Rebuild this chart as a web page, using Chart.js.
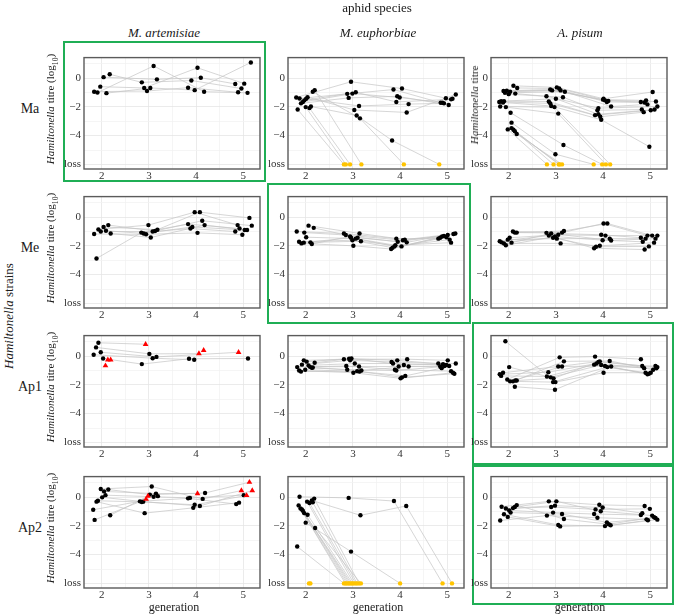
<!DOCTYPE html>
<html>
<head>
<meta charset="utf-8">
<script src="https://cdn.jsdelivr.net/npm/chart.js@4.4.0/dist/chart.umd.min.js"></script>
<style>
body { margin: 0; background: #fff; width: 674px; height: 614px; position: relative; overflow: hidden;
  font-family: 'Liberation Serif', 'DejaVu Serif', serif; color: #1a1a1a; }
.t { position: absolute; white-space: nowrap; transform: translate(-50%, -50%); }
.v { position: absolute; white-space: nowrap; transform: translate(-50%, -50%) rotate(-90deg); }
.box { position: absolute; border: 2px solid #1fae55; box-sizing: border-box; }
canvas { position: absolute; }
sub { font-size: 70%; }
</style>
</head>
<body>
<script>
const L = -6; // "loss" is drawn on the -6 line

const strains = ['Ma', 'Me', 'Ap1', 'Ap2'];
const species = ['M. artemisiae', 'M. euphorbiae', 'A. pisum'];
const xTicks = [2, 3, 4, 5];
const yTicks = [0, -2, -4, -6];
const yTickLabels = ['0', '−2', '−4', 'loss'];

// each lineage: [generation (jittered), titre]; 'r' = red triangle
const maArt = [
	[[1.84,-0.95],[2.96,-0.90],[3.83,-0.67],[4.89,-0.99]],
	[[1.91,-1.01],[3.10,0.84],[4.17,-0.95],[5.09,-1.03]],
	[[1.97,-0.60],[2.90,-0.69],[4.03,0.71],[5.02,-0.39]],
	[[2.04,0.06],[3.17,-0.09],[4.10,0.02],[4.83,-0.41]],
	[[2.10,-1.05],[3.03,-0.69],[3.97,-0.84],[5.16,1.08]],
	[[2.17,0.26],[2.85,-0.30],[3.90,-0.17],[4.96,-0.73]]
];
const maEup = [
	[[1.83,-2.19],[2.81,L]],
	[[2.00,-2.02],[2.85,L]],
	[[2.08,-2.09],[2.94,L]],
	[[2.19,-0.84],[3.18,L]],
	[[1.80,-1.35],[2.96,-0.26],[4.04,-0.73],[4.97,-1.40]],
	[[1.87,-1.42],[2.88,-1.10],[3.86,-0.80],[4.86,-1.72]],
	[[1.90,-1.76],[2.91,-1.38],[3.94,-1.27],[5.03,-1.87]],
	[[1.94,-1.66],[2.99,-1.08],[3.99,-1.35],[4.90,-1.72]],
	[[1.97,-1.55],[3.06,-0.99],[3.92,-1.66],[5.08,-1.48]],
	[[2.01,-1.44],[3.13,-1.94],[4.18,-1.81],[4.93,-1.76]],
	[[2.04,-1.33],[3.03,-2.22],[4.14,-2.39],[5.18,-1.14]],
	[[2.11,-1.98],[3.08,-2.60],[3.83,-4.34],[4.83,L]],
	[[2.15,-0.95],[3.15,-2.80],[4.08,L]],
	[[5.11,-1.44]]
];
const maPis = [
	[[2.10,-0.54],[3.02,-0.65],[4.01,-1.44],[5.05,-0.97]],
	[[2.18,-0.69],[3.07,-0.73],[4.00,-1.50],[4.91,-1.55]],
	[[1.96,-0.88],[2.88,-0.80],[4.04,-1.55],[5.12,-1.63]],
	[[1.89,-0.90],[2.92,-0.86],[4.11,-1.59],[4.80,-1.66]],
	[[2.03,-0.95],[3.10,-0.86],[4.08,-1.66],[4.88,-1.70]],
	[[1.92,-1.03],[3.19,-0.95],[4.17,-1.98],[4.94,-1.83]],
	[[2.14,-1.08],[2.80,-1.27],[3.90,-2.09],[5.15,-1.98]],
	[[2.00,-1.12],[3.15,-1.33],[3.88,-2.24],[4.82,-2.19]],
	[[1.84,-1.61],[3.00,-1.44],[3.90,-2.52],[5.09,-2.19]],
	[[1.90,-1.61],[2.85,-1.63],[3.83,-2.58],[5.01,-2.24]],
	[[1.80,-1.66],[2.88,-1.76],[3.94,-2.69],[4.86,-2.37]],
	[[1.88,-1.70],[2.90,-1.94],[3.96,-2.90],[4.98,-4.77]],
	[[1.82,-1.98],[2.97,-2.02],[4.15,L]],
	[[1.94,-2.02],[3.05,-2.47],[4.06,L]],
	[[1.98,-3.57],[2.81,L]],
	[[2.06,-3.48],[2.95,L]],
	[[2.10,-3.59],[3.06,L]],
	[[2.13,-3.70],[3.08,L]],
	[[2.17,-3.89],[3.13,L]],
	[[2.06,-3.10],[2.99,-5.29],[3.80,L]],
	[[2.04,-2.41],[3.16,-4.65],[3.98,L]]
];
const meArt = [
	[[1.84,-1.18],[2.94,-1.20],[4.03,-1.10],[4.98,-1.23]],
	[[1.93,-0.86],[2.99,-0.56],[3.97,0.34],[4.88,-0.56]],
	[[1.98,-1.01],[3.08,-1.01],[3.88,-0.80],[4.83,-1.01]],
	[[2.04,-0.69],[3.18,-0.88],[4.08,0.34],[5.13,-0.06]],
	[[2.09,-0.95],[2.89,-1.14],[3.92,-0.69],[5.03,-0.90]],
	[[2.14,-0.56],[3.13,-0.97],[4.13,-0.26],[5.18,-0.60]],
	[[2.19,-1.14],[3.04,-1.42],[4.18,-0.56],[5.08,-0.90]],
	[[1.89,-2.88],[2.84,-1.08],[3.83,-0.49],[4.92,-0.80]]
];
const meEup = [
	[[1.81,-1.01],[2.81,-1.14],[3.92,-1.50],[4.81,-1.50]],
	[[1.86,-1.72],[2.99,-1.61],[3.84,-2.13],[4.85,-1.44]],
	[[1.91,-1.83],[3.01,-2.00],[3.81,-2.22],[4.89,-1.35]],
	[[1.96,-1.78],[2.96,-1.44],[3.88,-2.04],[5.05,-1.57]],
	[[1.97,-1.08],[2.85,-1.25],[4.06,-1.61],[4.93,-1.31]],
	[[2.01,-1.40],[3.06,-1.50],[3.90,-1.96],[5.08,-1.78]],
	[[2.06,-0.60],[3.14,-1.14],[4.10,-1.57],[5.13,-1.18]],
	[[2.10,-1.76],[3.17,-1.68],[4.03,-2.04],[4.98,-1.40]],
	[[2.13,-1.87],[2.94,-1.35],[3.95,-1.72],[5.01,-1.25]],
	[[2.17,-0.75],[3.10,-1.44],[4.14,-1.76],[5.17,-1.14]]
];
const mePis = [
	[[1.81,-1.68],[2.85,-1.29],[3.81,-2.17],[4.88,-2.26]],
	[[1.85,-1.76],[2.94,-1.44],[3.85,-2.06],[4.97,-2.04]],
	[[1.90,-1.83],[3.10,-1.83],[3.93,-2.00],[5.08,-1.78]],
	[[1.94,-1.96],[2.98,-1.35],[3.99,-1.61],[4.84,-1.72]],
	[[1.98,-1.57],[3.02,-1.50],[4.14,-1.50],[4.90,-1.50]],
	[[2.02,-1.44],[3.05,-1.23],[4.05,-1.29],[5.15,-1.29]],
	[[2.06,-1.78],[2.90,-1.14],[3.96,-1.23],[4.80,-1.44]],
	[[2.09,-1.01],[3.13,-1.08],[4.01,-0.45],[4.94,-1.29]],
	[[2.13,-1.08],[3.17,-0.97],[4.09,-0.45],[5.04,-1.29]],
	[[2.17,-1.08],[2.80,-1.10],[4.17,-1.63],[5.11,-1.50]]
];
const ap1Art = [
	[[1.93,0.92],[2.93,0.82,'r']],
	[[1.88,0.60],[3.01,0.15],[4.06,0.17,'r']],
	[[1.98,0.26],[3.16,-0.06],[4.90,0.26,'r']],
	[[2.03,-0.17],[2.85,-0.56],[3.85,-0.19],[5.10,-0.17]],
	[[1.83,0.09],[3.08,-0.15],[3.96,-0.26]],
	[[4.16,0.39,'r']],
	[[2.08,-0.67,'r']],
	[[2.13,-0.26,'r']],
	[[2.19,-0.26,'r']]
];
const ap1Eup = [
	[[1.82,-0.77],[2.86,-0.69],[3.89,-0.95],[5.08,-1.05]],
	[[1.86,-1.01],[3.01,-1.16],[4.01,-1.55],[5.12,-1.16]],
	[[1.90,-1.08],[3.09,-1.05],[4.04,-1.48],[5.15,-1.23]],
	[[1.92,-0.60],[2.94,-0.30],[3.82,-0.41],[4.81,-0.52]],
	[[1.96,-0.30],[2.81,-0.22],[4.15,-0.22],[5.01,-0.30]],
	[[1.99,-0.95],[3.14,-1.08],[4.11,-1.38],[4.88,-0.84]],
	[[2.02,-0.39],[2.92,-0.19],[3.94,-0.30],[4.91,-0.56]],
	[[2.06,-0.65],[3.04,-0.52],[3.85,-0.52],[4.98,-0.62]],
	[[2.09,-0.75],[3.13,-0.73],[3.97,-0.73],[4.85,-0.73]],
	[[2.13,-0.82],[2.88,-0.95],[3.92,-1.01],[5.04,-0.69]],
	[[2.15,-0.80],[3.18,-1.01],[4.18,-0.73],[4.94,-0.69]],
	[[2.19,-0.47],[2.97,-0.17],[4.08,-0.62],[5.18,-0.52]]
];
const ap1Pis = [
	[[1.81,-1.27],[2.84,-1.12],[3.86,-0.52],[4.87,-0.84]],
	[[1.84,-1.38],[2.81,-1.42],[3.81,-0.60],[4.90,-1.16]],
	[[1.88,-1.16],[3.05,-0.73],[3.93,-0.37],[4.83,-0.69]],
	[[1.93,1.03],[2.99,-1.81],[4.01,-1.16],[5.01,-1.16]],
	[[1.97,-1.63],[3.08,-0.09],[3.83,-0.04],[4.80,-0.22]],
	[[2.01,-0.77],[2.89,-1.48],[3.96,-0.62],[4.94,-1.27]],
	[[2.03,-1.76],[3.13,-0.73],[4.04,-0.69],[5.11,-0.69]],
	[[2.09,-1.76],[2.94,-1.81],[4.09,-0.77],[4.97,-1.23]],
	[[2.14,-1.70],[3.17,-0.37],[4.14,-0.34],[5.06,-0.95]],
	[[2.17,-1.70],[2.95,-1.55],[3.90,-0.41],[5.15,-0.77]],
	[[2.13,-2.13],[2.98,-2.34],[4.17,-0.73],[5.13,-0.85]]
];
const ap2Art = [
	[[1.82,-0.88],[2.81,-0.30],[3.83,-0.09],[4.85,-0.49]],
	[[1.85,-1.59],[2.94,-0.15,'r']],
	[[2.18,-1.27],[2.98,0.06,'r']],
	[[1.89,-0.32],[2.91,-1.12],[3.94,-0.75],[4.91,-0.39]],
	[[1.92,-0.26],[2.85,-0.34],[3.97,-0.54],[5.07,0.11,'r']],
	[[1.98,0.56],[3.06,0.73],[4.14,-0.13],[4.96,0.45,'r']],
	[[2.01,-0.02],[2.88,-0.32],[4.08,-0.62],[5.19,0.45,'r']],
	[[2.05,0.39],[3.15,0.24],[4.03,0.24,'r']],
	[[2.08,0.13],[3.10,0.02],[3.87,-0.06],[5.01,0.13]],
	[[2.14,0.52],[3.02,0.17],[4.19,0.28],[5.13,1.03,'r']],
	[[3.19,0.06]]
];
const ap2Eup = [
	[[1.87,0.02],[2.91,-0.06],[3.87,-0.28],[4.90,L]],
	[[2.13,-0.24],[3.16,-1.27],[4.13,-0.62],[5.10,L]],
	[[2.00,-1.78],[2.96,-3.79],[4.00,L]],
	[[1.82,-3.44],[2.81,L]],
	[[1.85,-0.58],[2.84,L]],
	[[1.89,-0.80],[2.87,L]],
	[[1.92,-0.86],[2.90,L]],
	[[1.94,-0.95],[2.93,L]],
	[[1.97,-1.12],[2.96,L]],
	[[2.04,-1.23],[2.99,L]],
	[[2.03,-0.32],[3.02,L]],
	[[2.08,-0.41],[3.06,L]],
	[[2.15,-0.37],[3.09,L]],
	[[2.18,-0.11],[3.13,L]],
	[[2.20,-2.15],[3.17,L]],
	[[2.07,L]],
	[[2.10,L]]
];
const ap2Pis = [
	[[1.82,-1.63],[2.81,-1.29],[3.88,-1.44],[4.92,-1.55]],
	[[1.85,-0.67],[2.85,-0.30],[3.92,-0.54],[4.88,-0.62]],
	[[1.90,-1.20],[3.05,-1.94],[4.04,-2.02],[4.95,-1.61]],
	[[1.94,-0.80],[2.90,-0.69],[3.84,-0.86],[4.99,-0.82]],
	[[1.98,-1.38],[3.09,-2.04],[4.16,-1.96],[5.15,-1.57]],
	[[2.01,-0.93],[2.94,-1.08],[3.81,-1.18],[4.80,-1.25]],
	[[2.04,-1.08],[3.13,-1.18],[4.08,-1.76],[5.11,-1.46]],
	[[2.09,-0.77],[2.98,-0.60],[3.99,-0.73],[4.83,-1.12]],
	[[2.13,-0.69],[3.01,-0.30],[3.95,-0.99],[5.04,-1.29]],
	[[2.17,-0.56],[3.17,-1.53],[4.12,-1.89],[5.08,-1.40]]
];

const panels = [
	[maArt, maEup, maPis],
	[meArt, meEup, mePis],
	[ap1Art, ap1Eup, ap1Pis],
	[ap2Art, ap2Eup, ap2Pis]
];

// layout of the grid, pixels
const colLeft = [84, 288, 491];
const rowTop = [49, 188, 327, 468];
const PW = 179, PH = 120, AXW = 32, AXH = 18;

const frame = {
	id: 'frame',
	afterDatasetsDraw(chart) {
		const a = chart.chartArea, g = chart.ctx;
		g.save();
		g.strokeStyle = '#5b5b5b';
		g.lineWidth = 1.4;
		g.strokeRect(a.left, a.top, a.right - a.left, a.bottom - a.top);
		g.restore();
	}
};

function makePanel(r, c, lineages) {
	const cv = document.createElement('canvas');
	const w = AXW + PW + 1, h = 1 + PH + AXH;
	cv.width = w; cv.height = h;
	cv.style.left = (colLeft[c] - AXW) + 'px';
	cv.style.top = (rowTop[r] - 1) + 'px';
	document.body.appendChild(cv);

	const datasets = [];
	const pts = [];
	lineages.forEach(lin => {
		datasets.push({
			data: lin.map(p => ({x: p[0], y: p[1]})),
			showLine: true, borderColor: '#c4c4c4', borderWidth: 0.7,
			pointRadius: 0, order: 2
		});
		lin.forEach(p => pts.push({x: p[0], y: p[1], red: p[2] === 'r'}));
	});
	pts.sort((a, b) => a.red - b.red);
	datasets.push({
		data: pts, order: 1, borderWidth: 0,
		pointStyle: ctx => ctx.raw && ctx.raw.red ? 'triangle' : 'circle',
		pointRadius: ctx => ctx.raw && ctx.raw.red ? 3.3 : 2.2,
		backgroundColor: ctx => {
			if (!ctx.raw) return '#000';
			if (ctx.raw.red) return '#ff0000';
			return ctx.raw.y === L ? '#ffc400' : '#000';
		}
	});

	const tickFont = {family: "'Liberation Serif', serif", size: 11};
	new Chart(cv, {
		type: 'scatter',
		data: {datasets},
		options: {
			responsive: false, animation: false, devicePixelRatio: 1,
			layout: {padding: {top: 1, right: 1, left: 0, bottom: 0}},
			plugins: {legend: {display: false}, tooltip: {enabled: false}},
			scales: {
				x: {
					type: 'linear', min: 1.625, max: 5.354,
					afterBuildTicks: s => { s.ticks = [2, 2.5, 3, 3.5, 4, 4.5, 5].map(v => ({value: v})); },
					afterFit: s => { s.height = AXH; },
					ticks: {
						autoSkip: false, maxRotation: 0, padding: 1, color: '#333', font: tickFont,
						callback: v => xTicks.includes(v) ? String(v) : ''
					},
					grid: {drawTicks: false, lineWidth: 0.8,
						color: ctx => Number.isInteger(ctx.tick.value) ? '#e6e6e6' : '#f3f3f3'},
					border: {display: false}
				},
				y: {
					type: 'linear', min: -6.32, max: 1.42,
					afterBuildTicks: s => { s.ticks = [-6, -5, -4, -3, -2, -1, 0, 1].map(v => ({value: v})); },
					afterFit: s => { s.width = AXW; },
					ticks: {
						autoSkip: false, padding: 3, color: '#333', font: tickFont,
						callback: v => { const i = yTicks.indexOf(v); return i < 0 ? '' : yTickLabels[i]; }
					},
					grid: {drawTicks: false, lineWidth: 0.8,
						color: ctx => ctx.tick.value % 2 === 0 ? '#e6e6e6' : '#f3f3f3'},
					border: {display: false}
				}
			}
		},
		plugins: [frame]
	});
}

function addText(html, x, y, size, cls, style) {
	const d = document.createElement('div');
	d.className = cls || 't';
	d.style.left = x + 'px';
	d.style.top = y + 'px';
	d.style.fontSize = size + 'px';
	if (style) d.style.cssText += style;
	d.innerHTML = html;
	document.body.appendChild(d);
	return d;
}

// highlight boxes
[[63, 41, 203, 141], [267, 183, 204, 141], [472, 322, 202, 143], [472, 465, 202, 140]].forEach(b => {
	const d = document.createElement('div');
	d.className = 'box';
	d.style.left = b[0] + 'px'; d.style.top = b[1] + 'px';
	d.style.width = b[2] + 'px'; d.style.height = b[3] + 'px';
	document.body.appendChild(d);
});

panels.forEach((row, r) => row.forEach((lin, c) => makePanel(r, c, lin)));

addText('aphid species', 377, 8, 13);
const titleX = [164, 378, 580];
species.forEach((s, c) => addText('<i>' + s + '</i>', titleX[c], 33, 13));
strains.forEach((s, r) => addText(s, 30, rowTop[r] + PH / 2, 14));
addText('<i>Hamiltonella</i> strains', 9, 316, 13, 'v');
rowTop.forEach(t => addText('<i>Hamiltonella</i> titre (log<sub>10</sub>)', 52, t + PH / 2, 11, 'v'));
addText('<i>Hamiltonella</i> titre', 474, 105, 11, 'v');
const genX = [174, 378, 580];
genX.forEach(x => addText('generation', x, 607, 12));
</script>
</body>
</html>
